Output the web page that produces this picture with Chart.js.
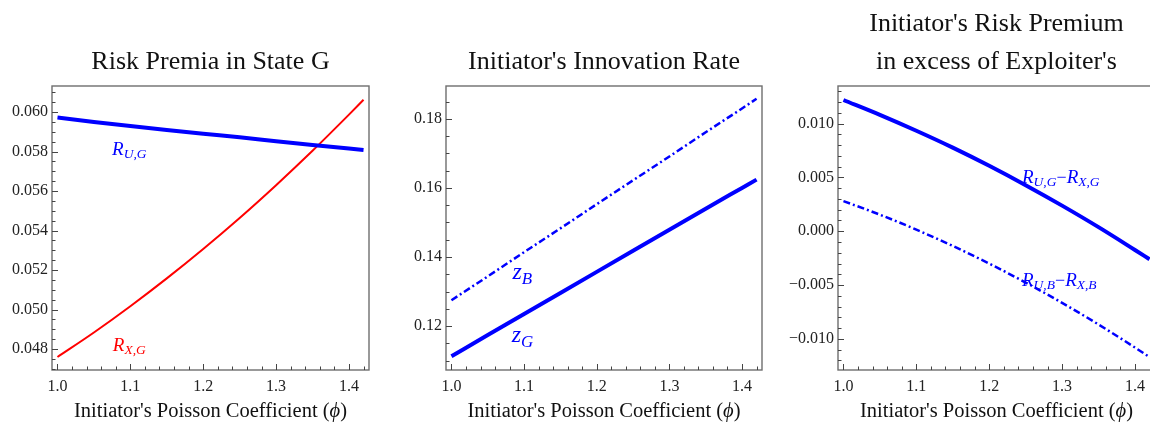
<!DOCTYPE html>
<html>
<head>
<meta charset="utf-8">
<script src="https://cdn.jsdelivr.net/npm/chart.js@4.4.1/dist/chart.umd.min.js"></script>
<style>
  html, body { margin: 0; padding: 0; background: #fff; width: 1150px; height: 425px; overflow: hidden; }
  .panel { position: absolute; top: 0; height: 425px; }
</style>
</head>
<body>
<div class="panel" style="left:0;width:383px"><canvas id="c1"></canvas></div>
<div class="panel" style="left:394px;width:382px"><canvas id="c2"></canvas></div>
<div class="panel" style="left:776px;width:384px"><canvas id="c3"></canvas></div>
<script>
// Initiator's Poisson coefficient (phi)
const phi = [1.00, 1.05, 1.10, 1.15, 1.20, 1.25, 1.30, 1.35, 1.40, 1.42];

// Risk premia in state G
const riskUG = [0.05972, 0.05950, 0.05929, 0.05909, 0.05890, 0.05872, 0.05852, 0.05833, 0.05815, 0.05808];
const riskXG = [0.04760, 0.04884, 0.05017, 0.05158, 0.05307, 0.05464, 0.05630, 0.05804, 0.05987, 0.06062];

// Innovation rates
const zG = [0.1113, 0.1174, 0.1235, 0.1296, 0.1357, 0.1418, 0.1479, 0.1540, 0.1600, 0.1624];
const zB = [0.1275, 0.1344, 0.1414, 0.1483, 0.1553, 0.1622, 0.1691, 0.1761, 0.1830, 0.1858];

// Initiator's premium in excess of exploiter's
const excessG = [0.0122, 0.01082, 0.00934, 0.00777, 0.00608, 0.00428, 0.00238, 0.00038, -0.00174, -0.0026];
const excessB = [0.0028, 0.00154, 0.00015, -0.00137, -0.00301, -0.00477, -0.00666, -0.00867, -0.01081, -0.0117];

// tick labels
const xTicks = [1.0, 1.1, 1.2, 1.3, 1.4];
const yTicks1 = [0.048, 0.050, 0.052, 0.054, 0.056, 0.058, 0.060];
const yTicks2 = [0.12, 0.14, 0.16, 0.18];
const yTicks3 = [-0.010, -0.005, 0.000, 0.005, 0.010];

const SERIF = '"Liberation Serif", "DejaVu Serif", serif';
const BLUE = '#0000ff';
const RED = '#ff0000';

const pts = ys => phi.map((x, i) => ({ x: x, y: ys[i] }));

// frame around plot + inward ticks (Mathematica style)
const frameTicks = {
  id: 'frameTicks',
  afterDraw(chart, args, opts) {
    const { ctx, chartArea: a, scales } = chart;
    ctx.save();
    ctx.strokeStyle = '#6e6e6e';
    ctx.lineWidth = 1.4;
    ctx.strokeRect(a.left, a.top, a.right - a.left, a.bottom - a.top);
    ctx.lineWidth = 1;
    ctx.strokeStyle = '#444';
    const sx = scales.x, sy = scales.y;
    const tick = (x1, y1, x2, y2) => { ctx.beginPath(); ctx.moveTo(x1, y1); ctx.lineTo(x2, y2); ctx.stroke(); };
    // x ticks
    for (let v = 1.0; v <= sx.max + 1e-9; v += 0.02) {
      const p = Math.round(sx.getPixelForValue(v)) + 0.5;
      const major = Math.abs(v * 10 - Math.round(v * 10)) < 1e-6;
      tick(p, a.bottom, p, a.bottom - (major ? 6 : 3.5));
    }
    // y ticks
    const step = opts.yMinor;
    const start = Math.ceil(sy.min / step) * step;
    for (let v = start; v <= sy.max + 1e-12; v += step) {
      const p = Math.round(sy.getPixelForValue(v)) + 0.5;
      const major = opts.yMajor.some(m => Math.abs(m - v) < step / 10);
      tick(a.left, p, a.left + (major ? 6 : 3.5), p);
    }
    ctx.restore();
  }
};

// curve labels with subscripts
const curveLabels = {
  id: 'curveLabels',
  afterDraw(chart, args, opts) {
    const { ctx, scales } = chart;
    ctx.save();
    ctx.textAlign = 'left';
    ctx.textBaseline = 'alphabetic';
    (opts.items || []).forEach(item => {
      let cx = scales.x.getPixelForValue(item.x);
      const cy = scales.y.getPixelForValue(item.y);
      ctx.fillStyle = item.color;
      item.parts.forEach(p => {
        ctx.font = p.font;
        ctx.fillText(p.t, cx, cy + p.dy);
        cx += ctx.measureText(p.t).width + (p.gap || 0);
      });
    });
    ctx.restore();
  }
};

// x axis title, drawn so the phi can be italic
const axisTitle = {
  id: 'axisTitle',
  afterDraw(chart) {
    const { ctx, chartArea: a } = chart;
    const parts = [
      { t: "Initiator's Poisson Coefficient (", font: '20.5px ' + SERIF },
      { t: '\u03D5', font: 'italic 20.5px ' + SERIF },
      { t: ')', font: '20.5px ' + SERIF }
    ];
    ctx.save();
    ctx.fillStyle = '#111';
    ctx.textBaseline = 'alphabetic';
    ctx.textAlign = 'left';
    let w = 0;
    parts.forEach(p => { ctx.font = p.font; w += ctx.measureText(p.t).width; });
    let x = (a.left + Math.min(a.right, chart.width)) / 2 - w / 2;
    if (chart.width < a.right + 1) x = (a.left + a.right) / 2 - w / 2;
    parts.forEach(p => { ctx.font = p.font; ctx.fillText(p.t, x, 417); x += ctx.measureText(p.t).width; });
    ctx.restore();
  }
};

const R = (sub) => [
  { t: 'R', font: 'italic 19px ' + SERIF, dy: 6 },
  { t: sub, font: 'italic 13.5px ' + SERIF, dy: 9 }
];
const MINUS = { t: '\u2212', font: '18px ' + SERIF, dy: 6 };

function makeChart(id, cfg) {
  return new Chart(document.getElementById(id), {
    type: 'scatter',
    data: { datasets: cfg.datasets },
    plugins: [frameTicks, curveLabels, axisTitle],
    options: {
      responsive: true,
      maintainAspectRatio: false,
      animation: false,
      layout: { padding: { top: 0, bottom: 0, left: 0, right: cfg.padRight } },
      elements: { point: { radius: 0, hoverRadius: 0 } },
      plugins: {
        legend: { display: false },
        tooltip: { enabled: false },
        title: {
          display: true,
          fullSize: false,
          text: cfg.title,
          color: '#111',
          font: { family: SERIF, size: 26, weight: 'normal', lineHeight: 38 / 26 },
          padding: cfg.titlePad
        },
        frameTicks: { yMinor: cfg.yMinor, yMajor: cfg.yTicks },
        curveLabels: { items: cfg.labels }
      },
      scales: {
        x: {
          type: 'linear',
          min: 0.9925,
          max: 1.4275,
          grid: { display: false, drawTicks: false },
          border: { display: false },
          afterBuildTicks: s => { s.ticks = xTicks.map(v => ({ value: v })); },
          afterFit: s => { s.height = 55; },
          ticks: {
            padding: 7,
            color: '#222',
            font: { family: SERIF, size: 16 },
            callback: v => v.toFixed(1)
          }
        },
        y: {
          type: 'linear',
          min: cfg.yMin,
          max: cfg.yMax,
          grid: { display: false, drawTicks: false },
          border: { display: false },
          afterBuildTicks: s => { s.ticks = cfg.yTicks.map(v => ({ value: v })); },
          afterFit: s => { s.width = cfg.yWidth; },
          ticks: {
            padding: 4,
            color: '#222',
            font: { family: SERIF, size: 16 },
            callback: v => cfg.fmt(v)
          }
        }
      }
    }
  });
}

const fmtNeg = v => (v < -1e-9 ? '\u2212' + Math.abs(v).toFixed(3) : Math.abs(v).toFixed(3));

makeChart('c1', {
  title: 'Risk Premia in State G',
  titlePad: { top: 43, bottom: 5 },
  padRight: 14,
  yWidth: 52,
  yMin: 0.04694, yMax: 0.06132,
  yTicks: yTicks1, yMinor: 0.0005,
  fmt: v => v.toFixed(3),
  datasets: [
    { data: pts(riskUG), showLine: true, borderColor: BLUE, borderWidth: 4, cubicInterpolationMode: 'monotone' },
    { data: pts(riskXG), showLine: true, borderColor: RED, borderWidth: 2, cubicInterpolationMode: 'monotone' }
  ],
  labels: [
    { x: 1.075, y: 0.05812, color: BLUE, parts: R('U,G') },
    { x: 1.076, y: 0.04822, color: RED, parts: R('X,G') }
  ]
});

makeChart('c2', {
  title: "Initiator's Innovation Rate",
  titlePad: { top: 43, bottom: 5 },
  padRight: 14,
  yWidth: 52,
  yMin: 0.1073, yMax: 0.1895,
  yTicks: yTicks2, yMinor: 0.005,
  fmt: v => v.toFixed(2),
  datasets: [
    { data: pts(zB), showLine: true, borderColor: BLUE, borderWidth: 2.5, borderDash: [7, 3, 2, 3], cubicInterpolationMode: 'monotone' },
    { data: pts(zG), showLine: true, borderColor: BLUE, borderWidth: 4, cubicInterpolationMode: 'monotone' }
  ],
  labels: [
    { x: 1.084, y: 0.1350, color: BLUE, parts: [{ t: 'z', font: 'italic 24px ' + SERIF, dy: 5 }, { t: 'B', font: 'italic 17px ' + SERIF, dy: 10 }] },
    { x: 1.083, y: 0.1168, color: BLUE, parts: [{ t: 'z', font: 'italic 24px ' + SERIF, dy: 5 }, { t: 'G', font: 'italic 17px ' + SERIF, dy: 10 }] }
  ]
});

makeChart('c3', {
  title: ["Initiator's Risk Premium", "in excess of Exploiter's"],
  titlePad: { top: 5, bottom: 5 },
  padRight: 5,
  yWidth: 62,
  yMin: -0.0129, yMax: 0.0135,
  yTicks: yTicks3, yMinor: 0.001,
  fmt: fmtNeg,
  datasets: [
    { data: pts(excessG), showLine: true, borderColor: BLUE, borderWidth: 4, cubicInterpolationMode: 'monotone' },
    { data: pts(excessB), showLine: true, borderColor: BLUE, borderWidth: 2.5, borderDash: [7, 3, 2, 3], cubicInterpolationMode: 'monotone' }
  ],
  labels: [
    { x: 1.245, y: 0.0050, color: BLUE, parts: R('U,G').concat([MINUS], R('X,G')) },
    { x: 1.245, y: -0.00450, color: BLUE, parts: R('U,B').concat([MINUS], R('X,B')) }
  ]
});
</script>
</body>
</html>
